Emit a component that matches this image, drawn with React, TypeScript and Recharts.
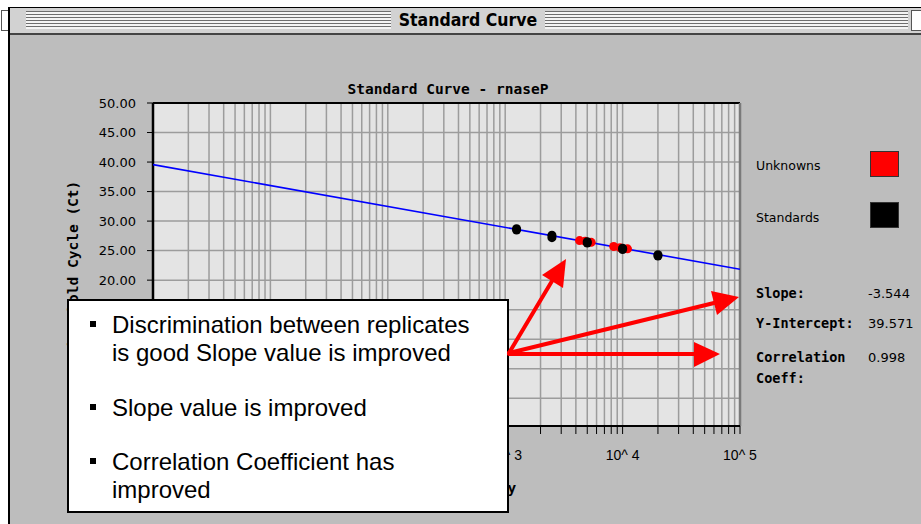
import React from 'react';
import { ScatterChart, Scatter, XAxis, YAxis, CartesianGrid, ReferenceLine } from 'recharts';

// ---- data ----
const standardsX = [1250, 1250, 2500, 2500, 5000, 5000, 10000, 10000, 20000, 20000];
const standardsCt = [28.5, 28.7, 27.2, 27.6, 26.3, 26.5, 25.2, 25.4, 24.1, 24.3];
const unknownsX = [4300, 4800, 5400, 8400, 9500, 11000];
const unknownsCt = [26.7, 26.6, 26.4, 25.7, 25.5, 25.3];
const fitX = [1, 100000];
const fitCt = [39.571, 21.851];

const xTicks = [
  1, 2, 3, 4, 5, 6, 7, 8, 9,
  10, 20, 30, 40, 50, 60, 70, 80, 90,
  100, 200, 300, 400, 500, 600, 700, 800, 900,
  1000, 2000, 3000, 4000, 5000, 6000, 7000, 8000, 9000,
  10000, 20000, 30000, 40000, 50000, 60000, 70000, 80000, 90000,
  100000,
];
// labels of the decades that are not hidden behind the callout box
const xTickValues = [1000, 10000, 100000];
const xTickLabels = ['10^ 3', '10^ 4', '10^ 5'];
const yTicks = [0, 5, 10, 15, 20, 25, 30, 35, 40, 45, 50];
const yTickValues = [20, 25, 30, 35, 40, 45, 50];
const yTickLabels = ['20.00', '25.00', '30.00', '35.00', '40.00', '45.00', '50.00'];

const legendNames = ['Unknowns', 'Standards'];
const legendColors = ['#ff0000', '#000000'];
const statLabels = ['Slope:', 'Y-Intercept:', 'Correlation'];
const statValues = ['-3.544', '39.571', '0.998'];

const bullets = [
  ['Discrimination between replicates', 'is good Slope value is improved'],
  ['Slope value is improved'],
  ['Correlation Coefficient has', 'improved'],
];

const standards = standardsX.map((x, i) => ({ x, y: standardsCt[i] }));
const unknowns = unknownsX.map((x, i) => ({ x, y: unknownsCt[i] }));
const fit = fitX.map((x, i) => ({ x, y: fitCt[i] }));

const MONO = "'DejaVu Sans Mono', monospace";
const SANS = "'DejaVu Sans', sans-serif";

const fmtX = (v: number) => {
  const i = xTickValues.indexOf(v);
  return i >= 0 ? xTickLabels[i] : '';
};
const fmtY = (v: number) => {
  const i = yTickValues.indexOf(v);
  return i >= 0 ? yTickLabels[i] : '';
};

export default function App() {
  return (
    <div style={{ position: 'absolute', left: 0, top: 0, width: 921, height: 524, background: '#ffffff', overflow: 'hidden' }}>
      {/* window title bar */}
      <div style={{ position: 'absolute', left: 8, top: 7, width: 913, height: 1, background: '#000' }} />
      <div style={{ position: 'absolute', left: 9, top: 8, width: 912, height: 25, background: '#d2d2d2' }} />
      <div style={{ position: 'absolute', left: 26, top: 11, width: 365, height: 18, background: 'repeating-linear-gradient(to bottom, #6e6e6e 0px, #6e6e6e 1px, #f4f4f4 1px, #f4f4f4 3px)' }} />
      <div style={{ position: 'absolute', left: 545, top: 11, width: 363, height: 18, background: 'repeating-linear-gradient(to bottom, #6e6e6e 0px, #6e6e6e 1px, #f4f4f4 1px, #f4f4f4 3px)' }} />
      <div style={{ position: 'absolute', left: 1, top: 10, width: 7, height: 19, background: '#fff', border: '1px solid #555' }} />
      <div style={{ position: 'absolute', left: 911, top: 10, width: 12, height: 19, background: '#fff', border: '1px solid #555' }} />
      <div style={{ position: 'absolute', left: 391, top: 8, width: 154, height: 25, lineHeight: '25px', textAlign: 'center', fontFamily: "'DejaVu Sans Condensed', 'DejaVu Sans', sans-serif", fontStretch: 'condensed', fontWeight: 'bold', fontSize: 17.5, color: '#000' }}>Standard Curve</div>
      <div style={{ position: 'absolute', left: 8, top: 33, width: 913, height: 2, background: '#444' }} />
      {/* content area */}
      <div style={{ position: 'absolute', left: 10, top: 35, width: 911, height: 489, background: '#bdbdbd' }} />
      <div style={{ position: 'absolute', left: 8, top: 7, width: 2, height: 517, background: '#000' }} />

      {/* chart */}
      <div style={{ position: 'absolute', left: 0, top: 0 }}>
        <ScatterChart width={921} height={524} margin={{ top: 103, right: 181, bottom: 68, left: 93 }}>
          <CartesianGrid fill="#e4e4e4" stroke="#9c9c9c" strokeWidth={1.5} />
          <XAxis
            dataKey="x"
            type="number"
            scale="log"
            domain={[1, 100000]}
            allowDataOverflow
            ticks={xTicks}
            interval={0}
            tickFormatter={fmtX}
            height={30}
            tickSize={8}
            tickMargin={16}
            axisLine={{ stroke: '#000', strokeWidth: 2 }}
            tickLine={{ stroke: '#000', strokeWidth: 1 }}
            tick={{ fontSize: 14, fill: '#000', fontFamily: "'Liberation Sans', Arial, sans-serif" }}
          />
          <YAxis
            dataKey="y"
            type="number"
            domain={[-4.7, 50]}
            allowDataOverflow
            ticks={yTicks}
            interval={0}
            tickFormatter={fmtY}
            width={60}
            tickSize={6}
            tickMargin={11}
            axisLine={{ stroke: '#000', strokeWidth: 2.5 }}
            tickLine={{ stroke: '#000', strokeWidth: 1 }}
            tick={{ fontSize: 13, fill: '#000', fontFamily: SANS }}
          />
          <ReferenceLine y={50} stroke="#000" strokeWidth={2} />
          <ReferenceLine x={100000} stroke="#7a7a7a" strokeWidth={2.5} />
          <Scatter data={fit} line={{ stroke: '#0000ff', strokeWidth: 1.6 }} lineType="joint" shape={() => <g />} isAnimationActive={false} />
          <Scatter data={unknowns} fill="#ff0000" isAnimationActive={false} />
          <Scatter data={standards} fill="#000000" isAnimationActive={false} />
        </ScatterChart>
      </div>

      {/* texts under the callout */}
      <svg width={921} height={524} style={{ position: 'absolute', left: 0, top: 0 }}>
        <text x={448} y={94} textAnchor="middle" fontFamily={MONO} fontWeight="bold" fontSize={14.5} fill="#000">Standard Curve - rnaseP</text>
        <text transform="translate(78,268) rotate(-90)" textAnchor="middle" fontFamily={MONO} fontWeight="bold" fontSize={14.5} fill="#000">Threshold Cycle (Ct)</text>
        <text x={442} y={493} textAnchor="middle" fontFamily={MONO} fontWeight="bold" fontSize={14.5} fill="#000">Starting Quantity</text>
        {legendNames.map((n, i) => (
          <g key={n}>
            <text x={756} y={170 + i * 52} fontFamily={SANS} fontSize={12.5} fill="#000">{n}</text>
            <rect x={870.5} y={151.5 + i * 51} width={28} height={25} fill={legendColors[i]} stroke="#333" strokeWidth={1} />
          </g>
        ))}
        <text x={756} y={298} fontFamily={MONO} fontWeight="bold" fontSize={13.5} fill="#000">{statLabels[0]}</text>
        <text x={756} y={328} fontFamily={MONO} fontWeight="bold" fontSize={13.5} fill="#000">{statLabels[1]}</text>
        <text x={756} y={362} fontFamily={MONO} fontWeight="bold" fontSize={13.5} fill="#000">{statLabels[2]}</text>
        <text x={756} y={383} fontFamily={MONO} fontWeight="bold" fontSize={13.5} fill="#000">Coeff:</text>
        <text x={868} y={298} fontFamily={SANS} fontSize={13} fill="#000">{statValues[0]}</text>
        <text x={868} y={328} fontFamily={SANS} fontSize={13} fill="#000">{statValues[1]}</text>
        <text x={868} y={362} fontFamily={SANS} fontSize={13} fill="#000">{statValues[2]}</text>
      </svg>

      {/* callout box */}
      <div style={{ position: 'absolute', left: 67, top: 299, width: 438, height: 210, background: '#fff', border: '2px solid #000' }}>
        {bullets.map((lines, i) => (
          <div key={i} style={{ position: 'absolute', left: 43, top: [10, 93, 147][i], fontFamily: "'Liberation Sans', Arial, sans-serif", fontSize: 24, lineHeight: '28px', color: '#000', whiteSpace: 'nowrap' }}>
            <div style={{ position: 'absolute', left: -22, top: 10, width: 6, height: 6, background: '#000' }} />
            {lines.map((l, j) => (
              <div key={j}>{l}</div>
            ))}
          </div>
        ))}
      </div>

      {/* arrows */}
      <svg width={921} height={524} style={{ position: 'absolute', left: 0, top: 0, pointerEvents: 'none' }}>
        <g stroke="#ff0000" strokeWidth={4} strokeLinecap="round">
          <line x1={509} y1={353} x2={552} y2={281} />
          <line x1={509} y1={353} x2={714} y2={303} />
          <line x1={509} y1={354} x2={695} y2={354} />
        </g>
        <g fill="#ff0000">
          <polygon points="566,259 542,275 563,288" />
          <polygon points="739,297 711,291 717,315" />
          <polygon points="720,354 694,342 694,367" />
        </g>
      </svg>
    </div>
  );
}
